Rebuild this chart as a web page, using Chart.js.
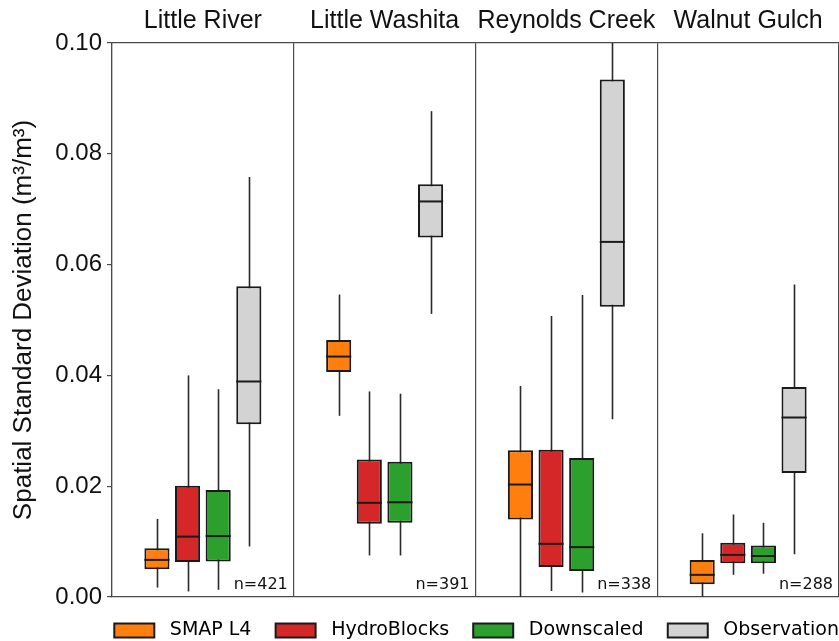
<!DOCTYPE html>
<html>
<head>
<meta charset="utf-8">
<script src="https://cdn.jsdelivr.net/npm/chart.js@4"></script>
<style>
  html, body { margin: 0; padding: 0; background: #fff; }
  #wrap { width: 839px; height: 641px; position: relative; }
</style>
</head>
<body>
<div id="wrap"><canvas id="chart"></canvas></div>
<script>
// ============================================================
// Data
// ============================================================

const PANELS = ['Little River', 'Little Washita', 'Reynolds Creek', 'Walnut Gulch'];
const SAMPLE_SIZES = ['n=421', 'n=391', 'n=338', 'n=288'];
const SERIES = ['SMAP L4', 'HydroBlocks', 'Downscaled', 'Observation'];
const Y_TICKS = [0, 0.02, 0.04, 0.06, 0.08, 0.10];

// [min, q1, median, q3, max] per panel
const smapL4Stats = [
  [0.0017, 0.0050, 0.0067, 0.0088, 0.0141],
  [0.0327, 0.0406, 0.0434, 0.0464, 0.0546],
  [0.0000, 0.0140, 0.0203, 0.0265, 0.0381],
  [0.0000, 0.0023, 0.0040, 0.0067, 0.0115],
];
const hydroBlocksStats = [
  [0.0010, 0.0063, 0.0109, 0.0201, 0.0400],
  [0.0075, 0.0132, 0.0170, 0.0248, 0.0371],
  [0.0011, 0.0054, 0.0096, 0.0266, 0.0507],
  [0.0040, 0.0061, 0.0076, 0.0098, 0.0149],
];
const downscaledStats = [
  [0.0013, 0.0064, 0.0110, 0.0193, 0.0375],
  [0.0075, 0.0134, 0.0171, 0.0244, 0.0367],
  [0.0008, 0.0047, 0.0090, 0.0251, 0.0545],
  [0.0042, 0.0061, 0.0074, 0.0093, 0.0134],
];
const observationStats = [
  [0.0091, 0.0312, 0.0389, 0.0561, 0.0758],
  [0.0511, 0.0649, 0.0714, 0.0745, 0.0877],
  [0.0321, 0.0524, 0.0641, 0.0934, 0.1000],
  [0.0077, 0.0224, 0.0324, 0.0379, 0.0564],
];

const STATS = [smapL4Stats, hydroBlocksStats, downscaledStats, observationStats];
const COLORS = ['#ff7f0e', '#d62728', '#2ca02c', '#d3d3d3'];

const EDGE = '#1a1a1a';
const FRAME = '#4a4a4a';
const SANS = "'Liberation Sans', Arial, sans-serif";
const DEJAVU = "'DejaVu Sans', sans-serif";

// ============================================================
// Box plot plugin: whiskers, medians, n= labels
// ============================================================

const boxPlot = {
  id: 'boxPlot',
  beforeDatasetsDraw(chart) {
    const { ctx, chartArea, scales: { y } } = chart;
    ctx.save();
    ctx.beginPath();
    ctx.rect(chartArea.left, chartArea.top, chartArea.right - chartArea.left, chartArea.bottom - chartArea.top);
    ctx.clip();
    ctx.strokeStyle = '#2a2a2a';
    ctx.lineWidth = 1.6;
    chart.data.datasets.forEach((ds, di) => {
      chart.getDatasetMeta(di).data.forEach((bar, i) => {
        const s = ds.stats[i];
        const x = Math.round(bar.x) + 0.5;
        ctx.beginPath();
        ctx.moveTo(x, y.getPixelForValue(s[0]));
        ctx.lineTo(x, y.getPixelForValue(s[4]));
        ctx.stroke();
      });
    });
    ctx.restore();
  },
  afterDatasetsDraw(chart) {
    const { ctx, chartArea, scales: { x, y } } = chart;
    ctx.save();
    ctx.strokeStyle = EDGE;
    ctx.lineWidth = 2;
    chart.data.datasets.forEach((ds, di) => {
      chart.getDatasetMeta(di).data.forEach((bar, i) => {
        const m = y.getPixelForValue(ds.stats[i][2]);
        ctx.beginPath();
        ctx.moveTo(bar.x - bar.width / 2, m);
        ctx.lineTo(bar.x + bar.width / 2, m);
        ctx.stroke();
      });
    });
    // sample size in the lower right corner of each panel
    ctx.fillStyle = '#111';
    ctx.font = '16px ' + DEJAVU;
    ctx.textAlign = 'right';
    ctx.textBaseline = 'alphabetic';
    const half = (x.getPixelForValue(1) - x.getPixelForValue(0)) / 2;
    SAMPLE_SIZES.forEach((txt, i) => {
      ctx.fillText(txt, x.getPixelForValue(i) + half - 6, chartArea.bottom - 8);
    });
    ctx.restore();
  },
};

// ============================================================
// Chart
// ============================================================

const datasets = SERIES.map((name, i) => ({
  label: name,
  stats: STATS[i],
  data: STATS[i].map(s => [s[1], s[3]]),
  backgroundColor: COLORS[i],
  borderColor: EDGE,
  borderWidth: 2,
  borderSkipped: false,
  categoryPercentage: 0.674,
  barPercentage: 0.82,
}));

// legend spacing comes from trailing spaces, so the row can be pinned right
const GAP = '    ';

new Chart(document.getElementById('chart'), {
  type: 'bar',
  data: { labels: PANELS, datasets },
  options: {
    responsive: true,
    maintainAspectRatio: false,
    animation: false,
    layout: { padding: 0 },
    plugins: {
      tooltip: { enabled: false },
      legend: {
        position: 'bottom',
        align: 'end',
        maxHeight: 20,
        labels: {
          font: { family: DEJAVU, size: 19 },
          color: '#111',
          boxWidth: 40,
          boxHeight: 14,
          padding: 0,
          generateLabels: (chart) => chart.data.datasets.map((ds, i, all) => ({
            text: ' ' + ds.label + (i < all.length - 1 ? GAP : ''),
            fillStyle: ds.backgroundColor,
            strokeStyle: EDGE,
            lineWidth: 2,
            datasetIndex: i,
            hidden: false,
          })),
        },
      },
    },
    scales: {
      x: {
        type: 'category',
        position: 'top',
        offset: true,
        grid: { offset: true, drawTicks: false, color: FRAME, lineWidth: 1.2 },
        border: { display: true, color: FRAME, width: 1.2 },
        ticks: {
          font: { family: SANS, size: 25 },
          color: '#111',
          padding: 7,
          maxRotation: 0,
          minRotation: 0,
          autoSkip: false,
        },
        afterFit: (s) => { s.height = 43; s.paddingLeft = 0; s.paddingRight = 0; },
      },
      x2: {
        type: 'category',
        position: 'bottom',
        labels: PANELS,
        offset: true,
        grid: { display: false },
        ticks: { display: false },
        border: { display: true, color: FRAME, width: 1.2 },
        afterFit: (s) => { s.height = 24; },
      },
      y: {
        min: 0,
        max: 0.1,
        afterBuildTicks: (s) => { s.ticks = Y_TICKS.map(v => ({ value: v })); },
        ticks: {
          font: { family: SANS, size: 24 },
          color: '#111',
          padding: 5,
          callback: (v) => Number(v).toFixed(2),
        },
        grid: { drawOnChartArea: false, tickLength: 5, color: FRAME, lineWidth: 1.2 },
        border: { color: FRAME, width: 1.2 },
        title: {
          display: true,
          text: 'Spatial Standard Deviation (m³/m³)',
          font: { family: SANS, size: 26 },
          color: '#111',
          padding: { top: 8, bottom: 0 },
        },
        afterFit: (s) => { s.width = 112; },
      },
    },
  },
  plugins: [boxPlot],
});
</script>
</body>
</html>
